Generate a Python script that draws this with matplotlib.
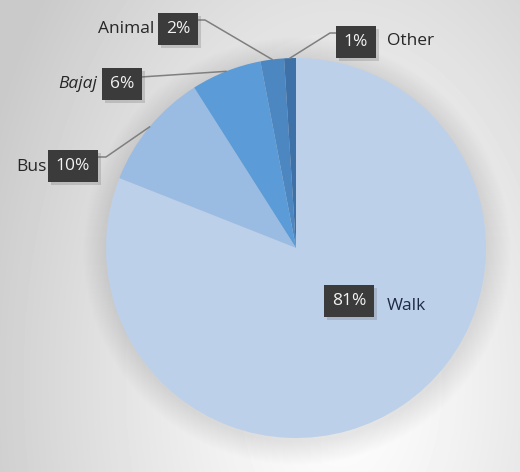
import numpy as np
import matplotlib.pyplot as plt
import matplotlib.patheffects as pe

# data
categories = ["Walk", "Bus", "Bajaj", "Animal", "Other"]
shares = [81, 10, 6, 2, 1]
pct_labels = ["81%", "10%", "6%", "2%", "1%"]
colors = ["#bdd0ea", "#9abce3", "#5b9cd8", "#4d87c1", "#3d71a8"]

W, H = 520, 472
fig = plt.figure(figsize=(W / 100, H / 100), dpi=100)
ax = fig.add_axes([0, 0, 1, 1])

plt.rcParams["font.family"] = ["Open Sans", "DejaVu Sans"]

# background gradient (light in the upper middle, grey to the edges)
yy, xx = np.mgrid[0:H, 0:W]
d = np.sqrt(((xx - 340) / 320.0) ** 2 + ((yy - 90) / 520.0) ** 2)
bg = np.clip(1.0 - 0.17 * d ** 1.2, 0.79, 1.0)
ax.imshow(bg, cmap="gray", vmin=0, vmax=1, extent=(0, W, H, 0), zorder=0)

cx, cy, r = 296, H - 248, 190

# soft shadow under the pie
for k in range(24):
    circ = plt.Circle((cx + 1, cy - 3), r + 24 - k, color="black", alpha=0.0045, lw=0, zorder=1)
    ax.add_patch(circ)

wedges, _ = ax.pie(shares, colors=colors, startangle=90, counterclock=False,
                   center=(cx, cy), radius=r, frame=True,
                   wedgeprops=dict(linewidth=0, zorder=2))
ax.set_xlim(0, W)
ax.set_ylim(0, H)
ax.set_aspect("equal")
ax.axis("off")


def y(v):
    return H - v


box_kw = dict(boxstyle="square,pad=0.45", fc="#3b3b3b", ec="none")
shadow = [pe.withSimplePatchShadow(offset=(2, -2), shadow_rgbFace="#555555", alpha=0.22)]

# label layout: box centre, name anchor, name side, leader points before the pie edge
layout = {
    "Walk": dict(box=(349, 301), name=(387, 306), side="left", lead=None),
    "Bus": dict(box=(73, 166), name=(47, 167), side="right", lead=[(96, 157), (106, 157)]),
    "Bajaj": dict(box=(122, 84), name=(97, 84), side="right", lead=[(141, 77)]),
    "Animal": dict(box=(178, 29), name=(154, 29), side="right", lead=[(196, 20), (205, 20)]),
    "Other": dict(box=(356, 42), name=(387, 41), side="left", lead=[(338, 33), (330, 33)]),
}

for w, cat, pct in zip(wedges, categories, pct_labels):
    L = layout[cat]
    if L["lead"] is not None:
        mid = np.deg2rad((w.theta1 + w.theta2) / 2)
        ex, ey = cx + r * np.cos(mid), cy + r * np.sin(mid)
        px = [p[0] for p in L["lead"]] + [ex]
        py = [y(p[1]) for p in L["lead"]] + [ey]
        ax.plot(px, py, color="#7f7f7f", lw=1.1, zorder=3)
    t = ax.text(L["box"][0], y(L["box"][1]), pct, color="#f2f2f2", fontsize=12.5,
                ha="center", va="center", bbox=box_kw, zorder=5)
    t.get_bbox_patch().set_path_effects(shadow)
    style = "italic" if cat == "Bajaj" else "normal"
    ax.text(L["name"][0], y(L["name"][1]), cat, color="#262626" if cat != "Walk" else "#1f2a44",
            fontsize=12.5, style=style, ha=L["side"], va="center", zorder=5)

fig.savefig("out.png", dpi=100)
